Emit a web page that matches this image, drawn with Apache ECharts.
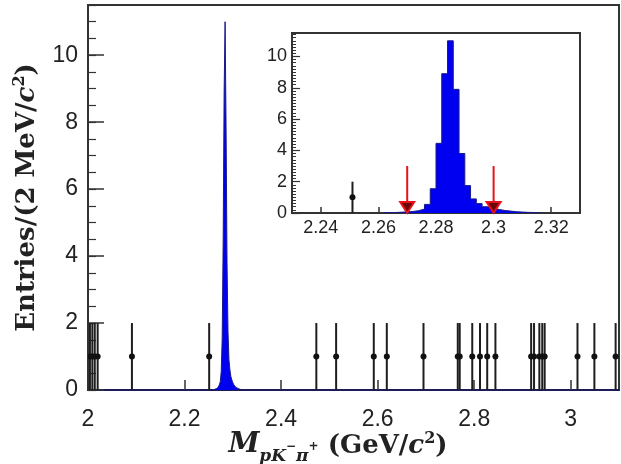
<!DOCTYPE html>
<html>
<head>
<meta charset="utf-8">
<script src="https://cdn.jsdelivr.net/npm/echarts@6/dist/echarts.min.js"></script>
<style>
html, body { margin: 0; padding: 0; background: #fff; }
#chart { width: 621px; height: 464px; }
</style>
</head>
<body>
<div id="chart"></div>
<script>
// signal MC histogram, 2 MeV bins starting at binLo
const binLo = 2.262;
const binWidth = 0.002;
const binCounts = [0.02, 0.03, 0.05, 0.07, 0.10, 0.15, 0.25, 0.55, 1.55, 4.45, 8.9, 11.0, 7.9,
  3.8, 1.75, 0.9, 0.6, 0.4, 0.3, 0.22, 0.16, 0.12, 0.08, 0.06, 0.04, 0.03, 0.02];

// data events (one entry each, error bar 0..2)
const dataMass = [2.004, 2.009, 2.014, 2.020, 2.091, 2.251, 2.473, 2.514, 2.592, 2.619, 2.695,
  2.766, 2.770, 2.796, 2.812, 2.827, 2.844, 2.918, 2.924, 2.935, 2.941, 2.946, 3.014, 3.049, 3.093];
const dataCount = [1, 1, 1, 1, 1, 1, 1, 1, 1, 1, 1, 1, 1, 1, 1, 1, 1, 1, 1, 1, 1, 1, 1, 1, 1];
const dataErr = [1, 1, 1, 1, 1, 1, 1, 1, 1, 1, 1, 1, 1, 1, 1, 1, 1, 1, 1, 1, 1, 1, 1, 1, 1];

// signal window arrows in the inset
const cutMass = [2.27, 2.30];
const cutTop = [3, 3];

// inset x tick labels
const insetTicks = [2.24, 2.26, 2.28, 2.30, 2.32];

const histData = binCounts.map((c, i) => [binLo + i * binWidth, c]);
histData.push([binLo + binCounts.length * binWidth, 0]);
const pointData = dataMass.map((m, i) => [m, dataCount[i], dataErr[i]]);
const arrowData = cutMass.map((m, i) => [m, cutTop[i]]);

const chart = echarts.init(document.getElementById('chart'));

const fmt = v => String(parseFloat(v.toFixed(3)));
const labelFont = 'Liberation Sans';
const serif = 'DejaVu Serif';

function renderPoint(params, api) {
  const x = api.value(0), y = api.value(1), e = api.value(2);
  const c = api.coord([x, y]);
  const lo = api.coord([x, y - e]);
  const hi = api.coord([x, y + e]);
  return {
    type: 'group',
    children: [
      { type: 'line', shape: { x1: c[0], y1: lo[1], x2: c[0], y2: hi[1] },
        style: { stroke: '#1e1e1e', lineWidth: 2 } },
      { type: 'circle', shape: { cx: c[0], cy: c[1], r: 3 }, style: { fill: '#111' } }
    ]
  };
}

function renderArrow(params, api) {
  const x = api.value(0), top = api.value(1);
  const t = api.coord([x, top]);
  const b = api.coord([x, 0]);
  const hh = 11, hw = 7;
  return {
    type: 'group',
    children: [
      { type: 'line', shape: { x1: t[0], y1: t[1], x2: b[0], y2: b[1] - hh },
        style: { stroke: '#e8121a', lineWidth: 2 } },
      { type: 'polygon', shape: { points: [[b[0] - hw, b[1] - hh], [b[0] + hw, b[1] - hh], [b[0], b[1]]] },
        style: { fill: '#6a0608', stroke: '#e8121a', lineWidth: 2 } }
    ]
  };
}

const titleRich = {
  m: { fontFamily: serif, fontWeight: 'bold', fontStyle: 'italic', fontSize: 28, color: '#222', verticalAlign: 'bottom', padding: [0, 0, 7, 0] },
  s: { fontFamily: serif, fontWeight: 'bold', fontStyle: 'italic', fontSize: 17, color: '#222', verticalAlign: 'bottom', padding: [0, 0, 1, 0] },
  u: { fontFamily: serif, fontWeight: 'bold', fontSize: 12, color: '#222', verticalAlign: 'bottom', padding: [0, 0, 13, 0] },
  n: { fontFamily: serif, fontWeight: 'bold', fontSize: 26, color: '#222', verticalAlign: 'bottom', padding: [0, 0, 7, 0] },
  i: { fontFamily: serif, fontWeight: 'bold', fontStyle: 'italic', fontSize: 26, color: '#222', verticalAlign: 'bottom', padding: [0, 0, 7, 0] },
  p: { fontFamily: serif, fontWeight: 'bold', fontSize: 16, color: '#222', verticalAlign: 'bottom', padding: [0, 0, 19, 0] }
};

const option = {
  animation: false,
  backgroundColor: '#fff',
  grid: [
    { left: 88, top: 5, right: 2, bottom: 74, show: true, borderColor: '#333', borderWidth: 2, outerBoundsMode: 'none' },
    { left: 292, top: 33, width: 288, height: 180, show: true, borderColor: '#333', borderWidth: 2, backgroundColor: '#fff', outerBoundsMode: 'none' }
  ],
  xAxis: [
    {
      gridIndex: 0, type: 'value', min: 2, max: 3.1, interval: 0.2,
      axisLine: { show: true, onZero: false, lineStyle: { color: '#1c1c5a', width: 2 } },
      axisTick: { inside: true, length: 10, lineStyle: { color: '#333', width: 1.5 } },
      axisLabel: { margin: 18, fontSize: 23, color: '#222', fontFamily: labelFont, showMaxLabel: false, formatter: fmt },
      splitLine: { show: false },
      name: '{m|M}{s|pK}{u|\u2212}{s|\u03c0}{u|+}{n| (GeV/}{i|c}{p|2}{n|)}',
      nameLocation: 'middle', nameGap: 41, nameMoveOverlap: false,
      nameTextStyle: { padding: [0, 31, 0, 0], rich: titleRich }
    },
    {
      gridIndex: 1, type: 'value', min: 2.23, max: 2.33,
      axisLine: { show: true, onZero: false, lineStyle: { color: '#333', width: 2 } },
      axisTick: { inside: true, length: 6, customValues: insetTicks, lineStyle: { color: '#333', width: 1.5 } },
      axisLabel: { margin: 6, fontSize: 18, color: '#222', fontFamily: labelFont, customValues: insetTicks, formatter: fmt },
      splitLine: { show: false }
    }
  ],
  yAxis: [
    {
      gridIndex: 0, type: 'value', position: 'left', min: 0, max: 11.5, interval: 2,
      axisLine: { show: true, lineStyle: { color: '#333', width: 2 } },
      axisTick: { inside: true, length: 16, lineStyle: { color: '#333', width: 1.5 } },
      axisLabel: { margin: 10, fontSize: 23, color: '#222', fontFamily: labelFont, showMaxLabel: false, formatter: fmt },
      splitLine: { show: false },
      name: '{n|Entries/(2 MeV/}{i|c}{p|2}{n|)}',
      nameLocation: 'middle', nameRotate: 90, nameGap: 41, nameMoveOverlap: false,
      nameTextStyle: { rich: titleRich }
    },
    {
      gridIndex: 0, type: 'value', position: 'left', min: 0, max: 11.5, interval: 0.5,
      axisLine: { show: false },
      axisTick: { inside: true, length: 8, lineStyle: { color: '#333', width: 1.2 } },
      axisLabel: { show: false }, splitLine: { show: false }
    },
    {
      gridIndex: 1, type: 'value', position: 'left', min: 0, max: 11.5, interval: 2,
      axisLine: { show: true, lineStyle: { color: '#333', width: 2 } },
      axisTick: { inside: true, length: 8, lineStyle: { color: '#333', width: 1.2 } },
      axisLabel: { margin: 5, fontSize: 18, color: '#222', fontFamily: labelFont, showMaxLabel: false, formatter: fmt },
      splitLine: { show: false }
    },
    {
      gridIndex: 1, type: 'value', position: 'left', min: 0, max: 11.5, interval: 0.2,
      axisLine: { show: false },
      axisTick: { inside: true, length: 4, lineStyle: { color: '#333', width: 1 } },
      axisLabel: { show: false }, splitLine: { show: false }
    }
  ],
  series: [
    {
      type: 'line', xAxisIndex: 0, yAxisIndex: 0, step: 'end', symbol: 'none', data: histData,
      lineStyle: { color: '#1a1a8a', width: 1 }, areaStyle: { color: '#0000f0', opacity: 1 }, z: 3
    },
    {
      type: 'line', xAxisIndex: 1, yAxisIndex: 2, step: 'end', symbol: 'none', data: histData,
      lineStyle: { color: '#1a1a8a', width: 1 }, areaStyle: { color: '#0000f0', opacity: 1 }, z: 3
    },
    {
      type: 'custom', xAxisIndex: 0, yAxisIndex: 0, renderItem: renderPoint, data: pointData,
      encode: { x: 0, y: 1 }, clip: true, z: 4
    },
    {
      type: 'custom', xAxisIndex: 1, yAxisIndex: 2, renderItem: renderPoint, data: pointData,
      encode: { x: 0, y: 1 }, clip: true, z: 4
    },
    {
      type: 'custom', xAxisIndex: 1, yAxisIndex: 2, renderItem: renderArrow, data: arrowData,
      encode: { x: 0, y: 1 }, z: 5
    }
  ]
};

chart.setOption(option);
</script>
</body>
</html>
